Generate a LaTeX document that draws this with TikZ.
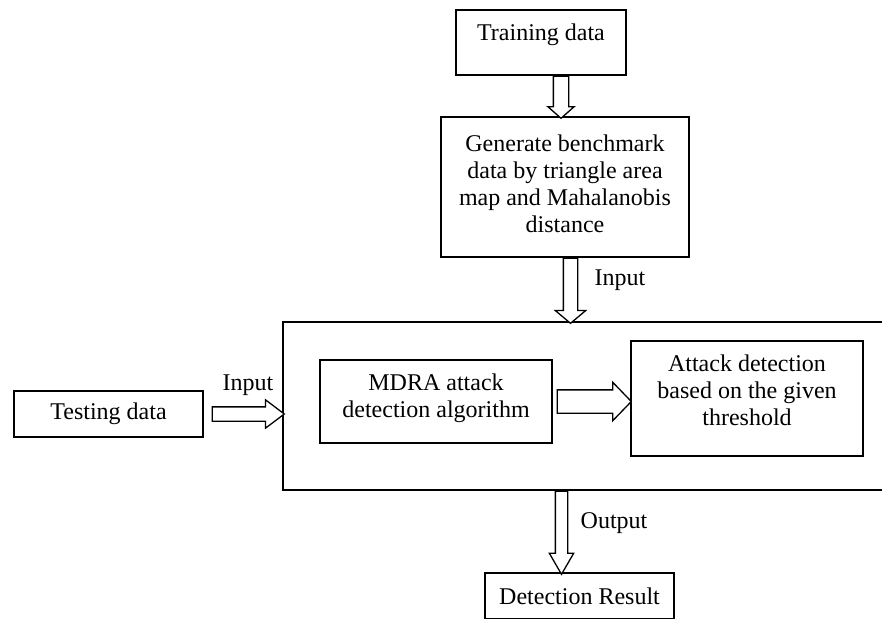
\documentclass[tikz,border=0pt]{standalone}
\usepackage{fontspec}
\setmainfont{Liberation Serif}
\usetikzlibrary{shapes.arrows,calc}

\tikzset{
  box/.style={draw, line width=1.3pt, align=center, inner sep=0pt},
  hollow/.style n args={4}{single arrow, draw, fill=white, line width=1.3pt,
    inner sep=0pt, text height=#1, text depth=0pt,
    single arrow head extend=#2, minimum height=#3, single arrow tip angle=#4,
    pos=0, anchor=tail, sloped, allow upside down},
}

\begin{document}
\begin{tikzpicture}[x=1pt,y=-1pt,font=\fontsize{24}{27}\selectfont]
  \useasboundingbox (0,0) rectangle (882,618);
  \clip (0,0) rectangle (882,618);

  % Drawing box training data
  \node[box, minimum width=170, minimum height=65, text depth=20] (train) at (541,42.5) {Training data};

  % Drawing box benchmark
  \node[box, minimum width=248, minimum height=140, text depth=7] (bench) at (565,187) {Generate benchmark\\data by triangle area\\map and Mahalanobis\\distance};

  % Drawing frame round the detector
  \node[box, minimum width=617, minimum height=168] (frame) at (591.5,406) {};
  \node[box, minimum width=232, minimum height=83, text depth=11] (mdra) at (436,401.5) {MDRA attack\\detection algorithm};
  \node[box, minimum width=232, minimum height=115, text depth=17] (attack) at (747,398.5) {Attack detection\\based on the given\\threshold};

  % Drawing box testing data and result
  \node[box, minimum width=189, minimum height=46] (test) at (108.5,414) {Testing data};
  \node[box, minimum width=189, minimum height=46] (result) at (579.5,596) {Detection Result};

  % Drawing hollow arrows
  \path ($(train.south)+(20,0)$) -- ($(train.south |- bench.north)+(20,0)$) node[hollow={14pt}{5.5pt}{42pt}{97}] (a1) {};
  \path ($(bench.south)+(5.5,0)$) -- ($(bench.south |- frame.north)+(5.5,0)$) node[hollow={13pt}{8pt}{65pt}{100}] (a2) {};
  \path ($(test.east)+(8,0)$) -- (test.east -| frame.west) node[hollow={13pt}{7pt}{72pt}{74}] (a3) {};
  \path ($(mdra.east)+(4,0)$) -- (mdra.east -| attack.west) node[hollow={22pt}{7.5pt}{74pt}{92}] (a4) {};
  \path ($(frame.south)+(-30,0)$) -- ($(frame.south |- result.north)+(-30,0)$) node[hollow={11pt}{6pt}{83pt}{60}] (a5) {};

  % Marking arrow labels
  \node (lin1) at (620,280) {Input};
  \node (lin2) at (248,385) {Input};
  \node (lout) at (614,523) {Output};
\end{tikzpicture}
\end{document}
